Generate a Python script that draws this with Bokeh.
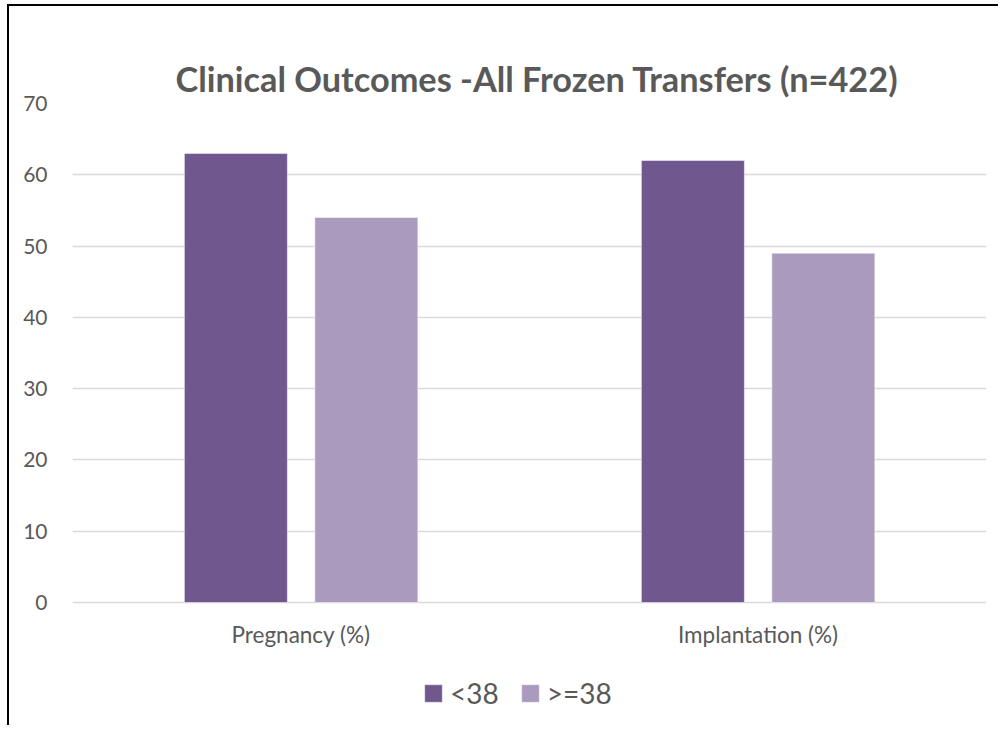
from bokeh.plotting import figure
from bokeh.models import ColumnDataSource, FactorRange, Legend, LegendItem, FixedTicker
from bokeh.transform import dodge
from bokeh.core.properties import value
from bokeh.embed import file_html
from bokeh.resources import INLINE

categories = ["Pregnancy (%)", "Implantation (%)"]
series_names = ["<38", ">=38"]
lt38 = [63, 62]
ge38 = [54, 49]
y_ticks = [0, 10, 20, 30, 40, 50, 60, 70]

colors = ["#70588F", "#A99ABE"]
text_color = "#595959"
font = "Lato"

source = ColumnDataSource(data=dict(cat=categories, lt38=lt38, ge38=ge38))

# frame reaches down to the legend; the value axis still maps 0..70 onto 499 px
frame_h = 622
px_per_unit = 499 / 70.0
y_low = -(frame_h - 499) / px_per_unit

p = figure(
    x_range=FactorRange(factors=categories, range_padding=0),
    y_range=(y_low, 70),
    frame_width=914, frame_height=frame_h,
    min_border_left=63, min_border_right=12,
    min_border_top=97, min_border_bottom=0,
    output_backend="svg", toolbar_location=None,
    title="Clinical Outcomes -All Frozen Transfers (n=422)",
)

r1 = p.vbar(x=dodge("cat", -0.1425, range=p.x_range), top="lt38", bottom=0, width=0.2254,
            source=source, fill_color=colors[0], line_color="#ffffff", line_width=0.5)
r2 = p.vbar(x=dodge("cat", 0.143, range=p.x_range), top="ge38", bottom=0, width=0.2254,
            source=source, fill_color=colors[1], line_color="#ffffff", line_width=0.5)

# category labels under the baseline
p.text(x="cat", y=0, text="cat", source=source, y_offset=32,
       text_align="center", text_baseline="middle",
       text_font=value(font), text_font_size="22.5px", text_color=text_color)

p.title.align = "left"
p.title.offset = 103
p.title.text_font = font
p.title.text_font_size = "34.3px"
p.title.text_font_style = "bold"
p.title.text_color = text_color
p.title.standoff = 9

p.outline_line_color = None
p.background_fill_color = "white"
p.border_fill_color = "white"

p.xaxis.visible = False
p.xgrid.grid_line_color = None
p.ygrid.grid_line_color = "#D9D9D9"
p.ygrid.grid_line_width = 1.5
p.yaxis.ticker = FixedTicker(ticks=y_ticks)

ax = p.yaxis
ax.axis_line_color = None
ax.major_tick_line_color = None
ax.minor_tick_line_color = None
ax.major_tick_out = 0
ax.major_tick_in = 0
ax.major_label_text_font = font
ax.major_label_text_color = text_color
ax.major_label_text_font_size = "21px"
ax.major_label_standoff = 25

legend = Legend(
    items=[LegendItem(label=series_names[0], renderers=[r1]),
           LegendItem(label=series_names[1], renderers=[r2])],
    orientation="horizontal", location=(350, 15),
    label_text_font=font, label_text_font_size="28px", label_text_color=text_color,
    glyph_width=22, glyph_height=22, label_standoff=6, spacing=20,
    border_line_color=None, background_fill_alpha=0, margin=0, padding=6,
)
p.add_layout(legend)

# black border at the top and left edges of the chart area
p.styles = {"border-left": "2px solid black", "border-top": "2px solid black",
            "margin-left": "7px", "margin-top": "4px"}

open("out.html", "w").write(file_html(p, INLINE))
